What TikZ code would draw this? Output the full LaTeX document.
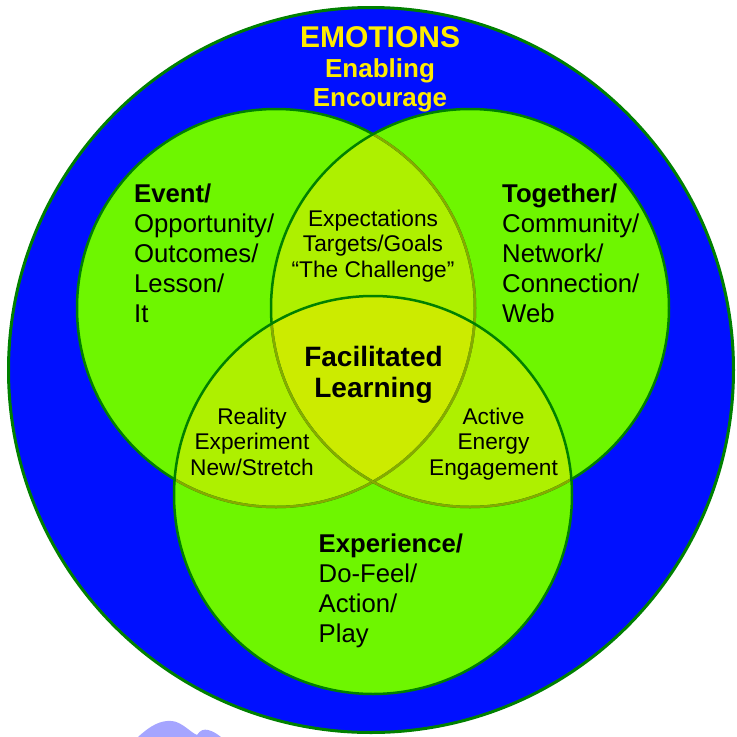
\documentclass[tikz,border=0pt]{standalone}
\usepackage{fontspec}
\setmainfont{Liberation Sans}
\usepackage{tikz}
\usetikzlibrary{positioning}

\definecolor{emoblue}{RGB}{0,16,255}
\definecolor{emoyellow}{RGB}{255,236,0}
\definecolor{ringgreen}{RGB}{0,128,0}
\definecolor{ringolive}{RGB}{135,170,0}
\definecolor{lonegreen}{RGB}{110,246,0}
\definecolor{pairgreen}{RGB}{174,240,0}
\definecolor{coregreen}{RGB}{204,235,0}
\definecolor{wmark}{RGB}{165,165,255}

\newcommand{\vennrad}{199pt}

\begin{document}
\begin{tikzpicture}[x=1pt,y=-1pt]
	\tikzstyle{bigtext} = [inner sep=0pt, align=left, anchor=base west, font=\fontsize{25.7}{30}\selectfont]
	\tikzstyle{smalltext} = [inner sep=0pt, align=center, anchor=base, font=\fontsize{22.7}{25.5}\selectfont]
	\tikzstyle{emotext} = [inner sep=0pt, anchor=base, text=emoyellow]
	\tikzstyle{ring} = [line width=2.5pt]
	
	\useasboundingbox (0,0) rectangle (737,737);
	
	\coordinate (outer) at (371,370);
	\coordinate (cevent) at (276,308);
	\coordinate (ctogether) at (470,308);
	\coordinate (cexperience) at (373,495);
	
	% blue ring
	\filldraw [fill=emoblue, draw=ringgreen, line width=3pt] (outer) circle [radius=362.5pt];
	
	% venn fills
	\fill [lonegreen] (cevent) circle [radius=\vennrad];
	\fill [lonegreen] (ctogether) circle [radius=\vennrad];
	\fill [lonegreen] (cexperience) circle [radius=\vennrad];
	\begin{scope}
		\clip (cevent) circle [radius=\vennrad];
		\fill [pairgreen] (ctogether) circle [radius=\vennrad];
		\fill [pairgreen] (cexperience) circle [radius=\vennrad];
	\end{scope}
	\begin{scope}
		\clip (ctogether) circle [radius=\vennrad];
		\fill [pairgreen] (cexperience) circle [radius=\vennrad];
	\end{scope}
	\begin{scope}
		\clip (cevent) circle [radius=\vennrad];
		\clip (ctogether) circle [radius=\vennrad];
		\fill [coregreen] (cexperience) circle [radius=\vennrad];
	\end{scope}
	
	% venn outlines
	\draw [ring, ringgreen] (cevent) circle [radius=\vennrad];
	\begin{scope}
		\clip (ctogether) circle [radius=\vennrad];
		\draw [ring, ringolive] (cevent) circle [radius=\vennrad];
	\end{scope}
	\begin{scope}
		\clip (cexperience) circle [radius=\vennrad];
		\draw [ring, ringolive] (cevent) circle [radius=\vennrad];
	\end{scope}
	\draw [ring, ringgreen] (ctogether) circle [radius=\vennrad];
	\begin{scope}
		\clip (cexperience) circle [radius=\vennrad];
		\draw [ring, ringolive] (ctogether) circle [radius=\vennrad];
	\end{scope}
	\draw [ring, ringgreen] (cexperience) circle [radius=\vennrad];
	
	% watermark
	\fill [wmark] (138,737) .. controls (150,726) and (160,720) .. (172,721) .. controls (182,722) and (190,732) .. (197,735) .. controls (200,730) and (204,729) .. (208,730) .. controls (213,731) and (217,734) .. (221,737) -- cycle;
	
	\node [emotext, font=\bfseries\fontsize{30}{30}\selectfont] (emotions) at (380,47) {EMOTIONS};
	\node [emotext, font=\bfseries\fontsize{26}{26}\selectfont] (enabling) at (380,77.5) {Enabling};
	\node [emotext, font=\bfseries\fontsize{26}{26}\selectfont] (encourage) at (380,106) {Encourage};
	
	% multi-line nodes: base is the last line
	\node [bigtext] (event) at (134,322) {\textbf{Event/}\\Opportunity/\\Outcomes/\\Lesson/\\It};
	\node [bigtext] (together) at (502,322) {\textbf{Together/}\\Community/\\Network/\\Connection/\\Web};
	\node [bigtext] (experience) at (318.5,642) {\textbf{Experience/}\\Do-Feel/\\Action/\\Play};
	
	\node [smalltext] (expect) at (373,277) {Expectations\\Targets/Goals\\“The Challenge”};
	\node [smalltext] (reality) at (252,475) {Reality\\Experiment\\New/Stretch};
	\node [smalltext] (active) at (493.5,475) {Active\\Energy\\Engagement};
	
	\node [inner sep=0pt, align=center, anchor=base, font=\bfseries\fontsize{28}{31}\selectfont] (facil) at (373.5,397) {Facilitated\\Learning};
	
\end{tikzpicture}
\end{document}
